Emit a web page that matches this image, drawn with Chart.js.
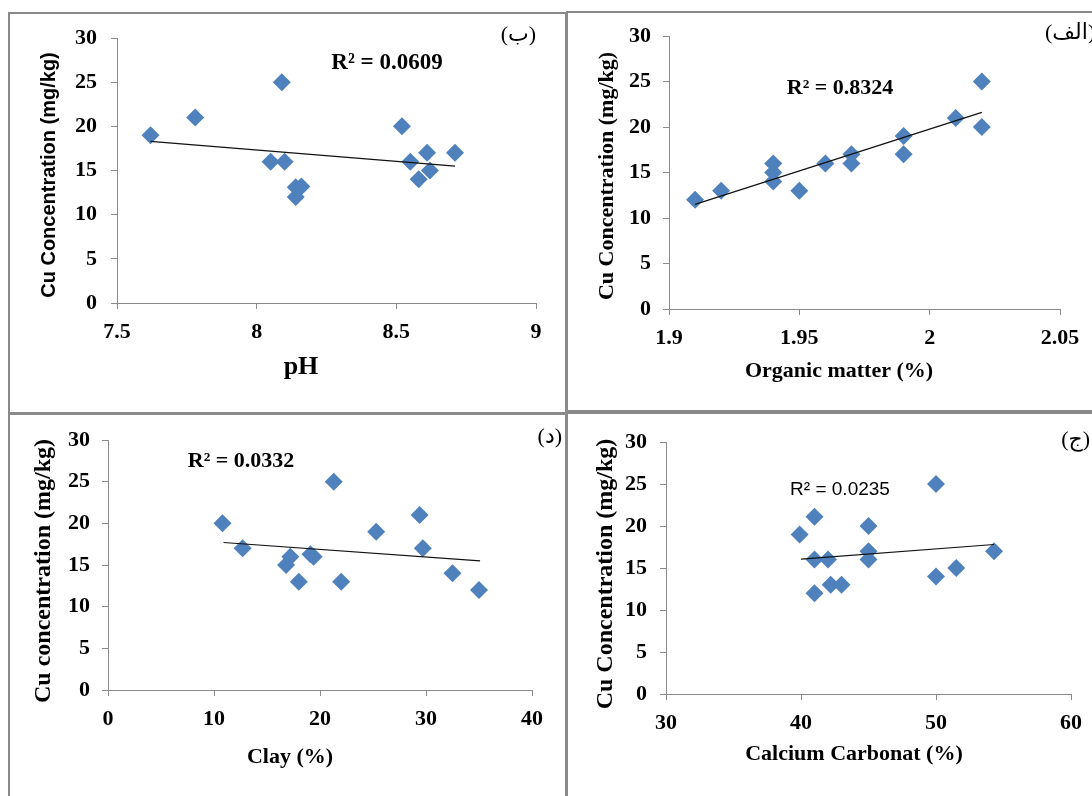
<!DOCTYPE html>
<html><head><meta charset="utf-8">
<script src="https://cdn.jsdelivr.net/npm/chart.js@4.4.1/dist/chart.umd.min.js"></script>
<style>
html,body{margin:0;padding:0;background:#fff;width:1092px;height:796px;overflow:hidden;position:relative}
canvas{position:absolute}
.frame{position:absolute;box-sizing:border-box;border:2px solid #8a8a8a;pointer-events:none}
</style></head><body>
<canvas id="c1" width="565" height="412" style="left:0;top:0"></canvas>
<canvas id="c2" width="524" height="412" style="left:568px;top:0"></canvas>
<canvas id="c3" width="565" height="382" style="left:0;top:414px"></canvas>
<canvas id="c4" width="524" height="382" style="left:568px;top:414px"></canvas>
<div class="frame" style="left:8px;top:12px;width:559px;height:402px"></div>
<div class="frame" style="left:566px;top:11px;width:540px;height:401px"></div>
<div class="frame" style="left:8px;top:413px;width:559px;height:400px"></div>
<div class="frame" style="left:566px;top:412px;width:540px;height:400px"></div>
<script>
// ---- data ----
const yTicks = [0, 5, 10, 15, 20, 25, 30];

const phX = [7.62, 7.78, 8.09, 8.05, 8.10, 8.14, 8.16, 8.14, 8.52, 8.55, 8.61, 8.58, 8.62, 8.71];
const phY = [19, 21, 25, 16, 16, 13.1, 13.2, 12, 20, 16, 17, 14, 15, 17];
const phTrendX = [7.62, 8.71];
const phTrendY = [18.3, 15.5];
const phTicks = [7.5, 8, 8.5, 9];

const omX = [1.91, 1.92, 1.94, 1.94, 1.94, 1.95, 1.96, 1.97, 1.97, 1.99, 1.99, 2.01, 2.02, 2.02];
const omY = [12, 13, 16, 15, 14, 13, 16, 17, 16, 19, 17, 21, 25, 20];
const omTrendX = [1.91, 2.02];
const omTrendY = [11.5, 21.6];
const omTicks = [1.9, 1.95, 2, 2.05];

const clayX = [10.8, 12.7, 16.8, 17.2, 18.0, 19.1, 19.4, 21.3, 22.0, 25.3, 29.4, 29.7, 32.5, 35.0];
const clayY = [20, 17, 15, 16, 13, 16.3, 16, 25, 13, 19, 21, 17, 14, 12];
const clayTrendX = [10.9, 35.1];
const clayTrendY = [17.7, 15.5];
const clayTicks = [0, 10, 20, 30, 40];

const caX = [39.9, 41, 41, 41, 42, 42.2, 43, 45, 45, 45, 50, 50, 51.5, 54.3];
const caY = [19, 21.1, 16, 12, 16, 13, 13, 20, 17, 16, 25, 14, 15, 17];
const caTrendX = [40, 54.3];
const caTrendY = [16.05, 17.8];
const caTicks = [30, 40, 50, 60];

// ---- helpers ----
const SERIF = '"Liberation Serif", "Times New Roman", "DejaVu Sans", serif';
const SANS = '"Liberation Sans", Arial, sans-serif';
const pts = (xs, ys) => xs.map((x, i) => ({x, y: ys[i]}));

const textPlugin = {
  id: 'panelText',
  afterDraw(chart, args, opts) {
    const ctx = chart.ctx;
    (opts.items || []).forEach(it => {
      ctx.save();
      ctx.font = it.font;
      ctx.fillStyle = '#000';
      ctx.textAlign = it.align || 'center';
      ctx.textBaseline = 'middle';
      ctx.translate(it.x, it.y);
      if (it.rotate) ctx.rotate(-Math.PI / 2);
      ctx.fillText(it.text, 0, 0);
      ctx.restore();
    });
  }
};

function axis(tickVals, fitProp, fitVal, pad) {
  return {
    type: 'linear',
    min: tickVals[0], max: tickVals[tickVals.length - 1],
    afterBuildTicks: s => { s.ticks = tickVals.map(v => ({value: v})); },
    afterFit: s => { s[fitProp] = fitVal; },
    grid: {drawOnChartArea: false, drawTicks: true, tickLength: 6, color: '#8a8a8a', lineWidth: 1},
    border: {color: '#8a8a8a', width: 1},
    ticks: {
      color: '#000', autoSkip: false, maxRotation: 0, padding: pad,
      font: {family: SERIF, size: 22, weight: 'bold'},
      callback: v => String(v)
    }
  };
}

function panel(id, xs, ys, tx, ty, xTicks, cfg) {
  new Chart(document.getElementById(id), {
    type: 'scatter',
    data: {
      datasets: [
        {type: 'line', data: pts(tx, ty), borderColor: '#111', borderWidth: 1.2, pointRadius: 0, fill: false},
        {data: pts(xs, ys), pointStyle: 'rectRot', pointRadius: 9, backgroundColor: '#4F81BD', borderColor: '#4F81BD', borderWidth: 0}
      ]
    },
    options: {
      responsive: false, animation: false, devicePixelRatio: 1,
      layout: {padding: {left: 0, bottom: 0, top: cfg.top, right: cfg.right}},
      plugins: {legend: {display: false}, tooltip: {enabled: false}, panelText: {items: cfg.items}},
      scales: {
        x: axis(xTicks, 'height', cfg.xh, 10),
        y: axis(yTicks, 'width', cfg.yw, cfg.ypad)
      }
    },
    plugins: [textPlugin]
  });
}

panel('c1', phX, phY, phTrendX, phTrendY, phTicks, {
  top: 38, right: 29, xh: 109, yw: 117, ypad: 14,
  items: [
    {text: 'Cu Concentration (mg/kg)', x: 49, y: 175, rotate: true, font: 'bold 20px ' + SANS},
    {text: 'pH', x: 301, y: 367, font: 'bold 26px ' + SERIF},
    {text: 'R² = 0.0609', x: 387, y: 63, font: 'bold 23px ' + SERIF},
    {text: '(ب)', x: 536, y: 35, align: 'right', font: '22px ' + SERIF}
  ]
});

panel('c2', omX, omY, omTrendX, omTrendY, omTicks, {
  top: 36, right: 32, xh: 103, yw: 101, ypad: 12,
  items: [
    {text: 'Cu Concentration (mg/kg)', x: 39, y: 176, rotate: true, font: 'bold 22px ' + SERIF},
    {text: 'Organic matter (%)', x: 271, y: 371, font: 'bold 22px ' + SERIF},
    {text: 'R² = 0.8324', x: 272, y: 88, font: 'bold 22px ' + SERIF},
    {text: '(الف)', x: 477, y: 33, align: 'left', font: '22px ' + SERIF}
  ]
});

panel('c3', clayX, clayY, clayTrendX, clayTrendY, clayTicks, {
  top: 26, right: 33, xh: 106, yw: 108, ypad: 12,
  items: [
    {text: 'Cu concentration (mg/kg)', x: 44, y: 157, rotate: true, font: 'bold 24px ' + SERIF},
    {text: 'Clay (%)', x: 290, y: 343, font: 'bold 22px ' + SERIF},
    {text: 'R² = 0.0332', x: 241, y: 47, font: 'bold 22px ' + SERIF},
    {text: '(د)', x: 562, y: 23, align: 'right', font: '22px ' + SERIF}
  ]
});

panel('c4', caX, caY, caTrendX, caTrendY, caTicks, {
  top: 28, right: 21, xh: 102, yw: 98, ypad: 13,
  items: [
    {text: 'Cu Concentration (mg/kg)', x: 38, y: 160, rotate: true, font: 'bold 24px ' + SERIF},
    {text: 'Calcium Carbonat (%)', x: 286, y: 340, font: 'bold 22px ' + SERIF},
    {text: 'R² = 0.0235', x: 272, y: 76, font: '19px ' + SANS},
    {text: '(ج)', x: 522, y: 26, align: 'right', font: '22px ' + SERIF}
  ]
});
</script>
</body></html>
